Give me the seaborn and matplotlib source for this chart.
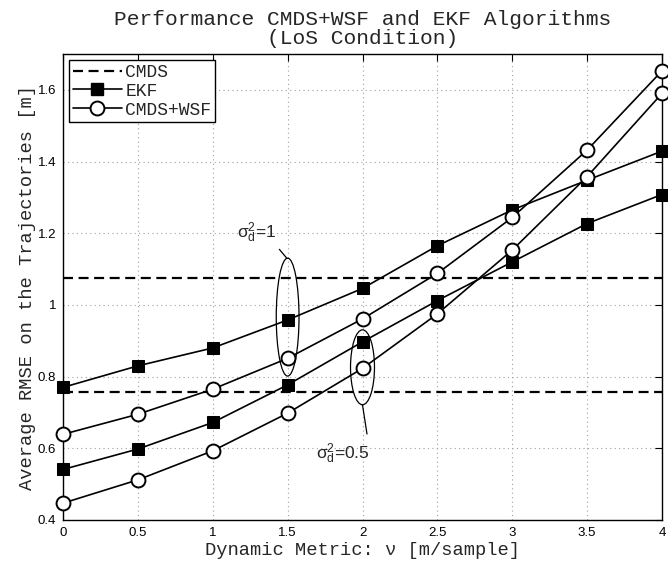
import matplotlib
matplotlib.use("Agg")
import matplotlib.pyplot as plt
import seaborn as sns
import pandas as pd
from matplotlib.patches import Ellipse
from matplotlib.lines import Line2D

# ---------------- data ----------------
v = [0, 0.5, 1, 1.5, 2, 2.5, 3, 3.5, 4]
ekf_s1 = [0.77, 0.83, 0.88, 0.958, 1.046, 1.165, 1.265, 1.348, 1.429]
ekf_s05 = [0.541, 0.598, 0.672, 0.777, 0.897, 1.012, 1.120, 1.227, 1.308]
wsf_s1 = [0.639, 0.695, 0.765, 0.851, 0.961, 1.088, 1.244, 1.432, 1.653]
wsf_s05 = [0.447, 0.512, 0.593, 0.698, 0.823, 0.975, 1.153, 1.358, 1.590]
cmds_s1 = 1.074
cmds_s05 = 0.756
x_ticks = [0, 0.5, 1, 1.5, 2, 2.5, 3, 3.5, 4]
x_tick_labels = ["0", "0.5", "1", "1.5", "2", "2.5", "3", "3.5", "4"]
y_ticks = [0.4, 0.6, 0.8, 1.0, 1.2, 1.4, 1.6]
y_tick_labels = ["0.4", "0.6", "0.8", "1", "1.2", "1.4", "1.6"]
legend_labels = ["CMDS", "EKF", "CMDS+WSF"]

sns.set_theme(style="white")
plt.rcParams["font.family"] = ["Liberation Sans", "DejaVu Sans"]
plt.rcParams["xtick.direction"] = "in"
plt.rcParams["ytick.direction"] = "in"

mono = ["Liberation Mono", "DejaVu Sans Mono"]
dash = (0, (4.5, 2.5))

fig = plt.figure(figsize=(6.68, 5.62), dpi=100)
ax = fig.add_axes([63 / 668, 42 / 562, (662 - 63) / 668, (520 - 54) / 562])

df = pd.DataFrame({"v": v, "ekf1": ekf_s1, "ekf05": ekf_s05,
                   "wsf1": wsf_s1, "wsf05": wsf_s05})

ax.axhline(cmds_s1, color="black", lw=1.6, ls=dash, zorder=2)
ax.axhline(cmds_s05, color="black", lw=1.6, ls=dash, zorder=2)

sq = dict(marker="s", markersize=8.6, markerfacecolor="black",
          markeredgecolor="black", color="black", linewidth=1.2,
          clip_on=False, zorder=3)
ci = dict(marker="o", markersize=10, markerfacecolor="white",
          markeredgecolor="black", markeredgewidth=1.4, color="black",
          linewidth=1.2, clip_on=False, zorder=4)

sns.lineplot(data=df, x="v", y="ekf1", ax=ax, legend=False, **sq)
sns.lineplot(data=df, x="v", y="ekf05", ax=ax, legend=False, **sq)
sns.lineplot(data=df, x="v", y="wsf1", ax=ax, legend=False, **ci)
sns.lineplot(data=df, x="v", y="wsf05", ax=ax, legend=False, **ci)

ax.set_xlim(0, 4)
ax.set_ylim(0.4, 1.7)
ax.set_xticks(x_ticks)
ax.set_xticklabels(x_tick_labels)
ax.set_yticks(y_ticks)
ax.set_yticklabels(y_tick_labels)
ax.tick_params(axis="both", labelsize=9.5, colors="black", length=5,
               width=0.8, top=True, right=True, pad=5)
ax.grid(True, color="#a0a0a0", ls=(0, (1, 3)), lw=0.8)
for s in ax.spines.values():
    s.set_color("black")
    s.set_linewidth(1.0)

ax.set_xlabel("Dynamic Metric: ν [m/sample]", family=mono, fontsize=13.5,
              labelpad=2)
ax.set_ylabel("Average RMSE on the Trajectories [m]", family=mono,
              fontsize=13.5, labelpad=1)
ax.set_title("Performance CMDS+WSF and EKF Algorithms\n(LoS Condition)",
             family=mono, fontsize=15.3, pad=7.5, linespacing=0.95)

# annotations
ax.add_patch(Ellipse((1.5, 0.966), 0.152, 0.329, fill=False, ec="black",
                     lw=0.9, zorder=5))
ax.add_patch(Ellipse((2.0, 0.826), 0.16, 0.209, fill=False, ec="black",
                     lw=0.9, zorder=5))
ax.plot([1.445, 1.495], [1.155, 1.13], color="black", lw=0.9)
ax.plot([2.0, 2.03], [0.721, 0.64], color="black", lw=0.9)
ax.text(1.165, 1.2, r"$\mathregular{\sigma_d^2}$=1", fontsize=12.5,
        va="center", ha="left")
ax.text(1.69, 0.585, r"$\mathregular{\sigma_d^2}$=0.5", fontsize=12.5,
        va="center", ha="left")

handles = [
    Line2D([], [], color="black", lw=1.6, ls=dash),
    Line2D([], [], **{k: val for k, val in sq.items() if k not in ("clip_on", "zorder")}),
    Line2D([], [], **{k: val for k, val in ci.items() if k not in ("clip_on", "zorder")}),
]
leg = ax.legend(handles, legend_labels, loc="upper left",
                prop={"family": mono, "size": 13}, frameon=True,
                fancybox=False, edgecolor="black", framealpha=1,
                borderpad=0.2, labelspacing=0.1, handlelength=2.7,
                handletextpad=0.2, borderaxespad=0.35)
leg.get_frame().set_linewidth(1.0)

fig.savefig("out.png", dpi=100)
